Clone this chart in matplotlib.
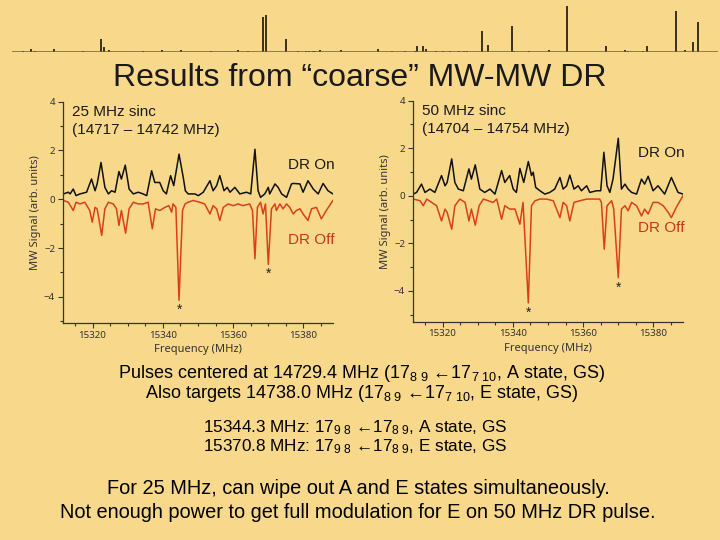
import numpy as np
import matplotlib
matplotlib.use("Agg")
from matplotlib import pyplot as plt
from matplotlib.ticker import MultipleLocator

plt.rcParams['font.family'] = ['Liberation Sans', 'DejaVu Sans']
plt.rcParams['mathtext.fontset'] = 'custom'
plt.rcParams['mathtext.rm'] = 'Liberation Sans'
plt.rcParams['mathtext.it'] = 'Liberation Sans:italic'
plt.rcParams['mathtext.bf'] = 'Liberation Sans:bold'

BG = '#f8d98b'
RED = '#d8401c'
ARROW = '\u2190'

# stick spectrum across the top (position, relative intensity)
stick_pos = [22.7, 31.3, 35.3, 54.0, 82.7, 100.7, 104.0, 109.3, 143.3, 162.0,
             181.0, 210.7, 237.7, 248.3, 262.7, 266.3, 286.3, 298.3, 306.0, 309.3,
             313.3, 315.3, 320.0, 341.0, 377.7, 391.7, 405.0, 415.0, 416.7, 423.3,
             426.0, 436.0, 443.3, 450.0, 459.3, 464.0, 467.3, 481.7, 487.7, 512.0,
             514.0, 529.0, 548.7, 566.7, 579.3, 605.7, 625.0, 628.3, 642.7, 647.3,
             656.7, 675.7, 685.0, 693.3, 698.3]
stick_int = [1.0, 3.0, 1.0, 3.0, 1.0, 13.0, 5.0, 2.3, 1.0, 2.0,
             2.0, 1.0, 2.0, 1.0, 35.3, 37.0, 13.0, 0.7, 1.0, 1.0,
             1.0, 1.3, 2.0, 2.0, 2.7, 0.7, 0.7, 1.0, 6.0, 6.0,
             3.0, 0.7, 0.7, 0.7, 0.7, 1.0, 1.0, 21.0, 7.0, 26.0,
             1.3, 1.0, 2.0, 46.0, 0.3, 6.0, 2.0, 1.0, 1.0, 6.0,
             0.3, 41.0, 1.7, 9.7, 30.0]

# 25 MHz sinc panel
f25_on = [15311.7, 15313.1, 15313.6, 15314.5, 15315.3, 15316.4, 15318.3, 15319.7, 15320.7, 15321.3,
          15322.4, 15323.5, 15324.5, 15325.4, 15326.4, 15327.5, 15328.2, 15329.3, 15330.4, 15331.6,
          15333.0, 15334.4, 15335.4, 15336.8, 15337.7, 15339.1, 15340.1, 15341.0, 15342.2, 15343.1,
          15344.6, 15345.8, 15346.4, 15347.2, 15348.2, 15349.1, 15350.1, 15351.5, 15353.4, 15354.3,
          15355.3, 15356.2, 15357.4, 15358.3, 15359.1, 15360.5, 15361.9, 15363.8, 15365.0, 15366.2,
          15367.1, 15367.8, 15369.0, 15370.0, 15370.4, 15371.9, 15372.8, 15373.8, 15375.2, 15376.6,
          15377.1, 15379.0, 15379.9, 15381.3, 15382.8, 15384.2, 15385.6, 15387.0, 15388.4]
s25_on = [0.22, 0.29, 0.22, 0.42, 0.15, 0.22, 0.29, 0.83, 0.35, 0.63,
          1.51, 0.49, 0.22, 0.35, 0.29, 1.14, 0.83, 1.40, 0.42, 0.22,
          0.29, 0.22, 0.15, 1.17, 0.69, 0.69, 0.35, 0.22, 0.97, 0.56,
          1.85, 0.90, 0.35, 0.22, 0.22, 0.22, 0.15, 0.29, 0.76, 0.35,
          0.56, 0.97, 0.35, 0.49, 0.29, 0.49, 0.22, 0.29, 0.22, 2.05,
          0.35, 0.08, 0.22, 0.49, 0.22, 0.63, 0.49, 0.22, 0.08, 0.63,
          0.65, 0.63, 0.29, 0.76, 0.42, 0.22, 0.65, 0.35, 0.22]
f25_off = [15311.7, 15313.1, 15314.5, 15315.3, 15316.4, 15317.8, 15319.2, 15319.9, 15320.7, 15321.3,
           15322.6, 15323.5, 15324.5, 15325.9, 15326.8, 15327.5, 15328.2, 15329.4, 15330.4, 15331.6,
           15333.0, 15334.4, 15335.8, 15337.0, 15337.9, 15339.1, 15340.6, 15341.7, 15342.5, 15342.9,
           15343.7, 15344.6, 15345.6, 15346.3, 15347.2, 15348.6, 15350.5, 15351.9, 15353.4, 15354.3,
           15355.3, 15356.2, 15357.2, 15358.6, 15360.0, 15361.4, 15362.8, 15364.7, 15365.5, 15366.2,
           15366.9, 15367.8, 15368.5, 15369.2, 15370.0, 15370.9, 15371.9, 15372.3, 15373.3, 15374.2,
           15375.2, 15376.1, 15377.1, 15378.0, 15379.0, 15379.9, 15381.3, 15382.3, 15383.7, 15385.1,
           15386.5, 15388.4]
s25_off = [-0.05, -0.12, -0.46, -0.12, -0.19, -0.12, -0.46, -0.94, -0.33, -0.39,
           -1.48, -0.39, -0.12, -0.19, -0.39, -1.07, -0.46, -1.39, -0.39, -0.12,
           -0.19, -0.19, -0.12, -1.21, -0.39, -0.46, -0.33, -0.26, -0.53, -0.19,
           -0.33, -4.14, -0.46, -0.19, -0.12, -0.05, -0.12, -0.19, -0.60, -0.26,
           -0.39, -0.87, -0.33, -0.19, -0.26, -0.19, -0.26, -0.19, -0.46, -2.44,
           -0.33, -0.12, -0.60, -0.19, -2.67, -0.39, -0.19, -0.46, -0.19, -0.39,
           -0.19, -0.33, -0.60, -0.46, -0.39, -0.60, -0.87, -0.39, -0.33, -0.80,
           -0.46, -0.05]

# 50 MHz sinc panel
f50_on = [15311.7, 15312.6, 15314.0, 15315.0, 15316.4, 15317.8, 15319.7, 15320.7, 15321.3, 15322.6,
          15323.5, 15324.5, 15325.9, 15327.5, 15328.2, 15329.3, 15330.6, 15332.0, 15333.5, 15334.9,
          15336.8, 15337.7, 15339.1, 15340.1, 15341.0, 15342.0, 15343.1, 15344.4, 15345.3, 15345.8,
          15346.5, 15347.7, 15349.1, 15350.5, 15351.9, 15353.4, 15354.3, 15355.3, 15356.2, 15357.4,
          15358.6, 15359.5, 15361.0, 15361.9, 15363.8, 15365.0, 15365.9, 15366.8, 15367.6, 15368.5,
          15370.0, 15370.9, 15371.9, 15372.8, 15373.8, 15375.2, 15376.6, 15377.5, 15378.5, 15379.9,
          15381.3, 15383.2, 15385.1, 15387.0, 15388.4]
s50_on = [0.07, 0.14, 0.49, 0.14, 0.28, 0.14, 0.85, 0.42, 0.56, 1.55,
          0.56, 0.28, 0.21, 1.13, 0.70, 1.30, 0.28, 0.14, 0.28, 0.07,
          1.06, 0.56, 0.85, 0.28, 0.14, 1.15, 0.56, 1.44, 0.85, 0.99,
          0.35, 0.21, 0.07, 0.14, 0.28, 0.77, 0.28, 0.42, 0.87, 0.28,
          0.42, 0.21, 0.42, 0.14, 0.21, 0.21, 1.83, 0.42, 0.14, 0.70,
          2.42, 0.28, 0.49, 0.28, 0.14, 0.07, 0.70, 0.49, 0.82, 0.21,
          0.42, 0.07, 0.77, 0.14, 0.07]
f50_off = [15311.7, 15313.6, 15314.5, 15315.5, 15316.9, 15318.3, 15319.7, 15320.7, 15321.3, 15322.6,
           15323.5, 15324.9, 15326.4, 15327.5, 15328.2, 15329.3, 15330.4, 15331.6, 15333.0, 15334.4,
           15335.4, 15336.8, 15337.7, 15339.1, 15340.6, 15342.0, 15342.9, 15344.4, 15345.3, 15346.3,
           15347.7, 15349.6, 15351.5, 15353.4, 15354.3, 15355.3, 15356.2, 15357.4, 15359.1, 15361.0,
           15362.8, 15364.7, 15365.2, 15366.0, 15366.8, 15368.1, 15368.7, 15370.0, 15370.9, 15371.9,
           15372.8, 15373.8, 15375.2, 15376.6, 15377.5, 15378.5, 15379.9, 15381.3, 15382.8, 15384.2,
           15385.1, 15386.5, 15388.4]
s50_off = [-0.14, -0.21, -0.42, -0.14, -0.28, -0.42, -1.06, -0.56, -0.70, -1.41,
           -0.42, -0.14, -0.28, -1.06, -0.56, -1.24, -0.42, -0.14, -0.21, -0.28,
           -0.14, -0.99, -0.42, -0.56, -0.56, -1.20, -0.28, -4.51, -0.42, -0.21,
           -0.14, -0.14, -0.21, -0.92, -0.28, -0.42, -1.06, -0.28, -0.21, -0.14,
           -0.14, -0.14, -0.28, -2.25, -0.42, -0.21, -0.56, -3.45, -0.56, -0.42,
           -0.63, -0.28, -0.42, -0.85, -0.56, -0.77, -0.28, -0.28, -0.42, -0.70,
           -0.92, -0.49, 0.00]

fig = plt.figure(figsize=(7.2, 5.4), dpi=100)
fig.patch.set_facecolor(BG)

def px(x, y):
    return x / 720, 1 - y / 540

# top stick spectrum
axs = fig.add_axes([12 / 720, 1 - 52 / 540, 706 / 720, 48 / 540])
axs.set_facecolor('none')
axs.vlines(stick_pos, 0, stick_int, color='#2b2314', lw=1.3)
axs.axhline(0, color='#76652f', lw=1.1)
axs.set_xlim(12, 718)
axs.set_ylim(0, 48)
axs.axis('off')

fig.text(*px(360, 78), "Results from \u201ccoarse\u201d MW-MW DR", ha='center', va='center',
         fontsize=23, color='#1a1a1a')


def panel(rect, ylo, f_on, s_on, f_off, s_off, lab1, lab2, on_xy, off_xy, star_pts):
    ax = fig.add_axes(rect)
    ax.set_facecolor('none')
    ax.plot(f_on, s_on, color='#111111', lw=1.1)
    ax.plot(f_off, s_off, color=RED, lw=1.1)
    ax.set_xlim(15311.5, 15388.5)
    ax.set_ylim(ylo, 4)
    for s in ['top', 'right']:
        ax.spines[s].set_visible(False)
    for s in ['left', 'bottom']:
        ax.spines[s].set_color('#333333')
        ax.spines[s].set_linewidth(0.9)
    ax.xaxis.set_major_locator(MultipleLocator(20))
    ax.xaxis.set_minor_locator(MultipleLocator(5))
    ax.yaxis.set_major_locator(MultipleLocator(2))
    ax.yaxis.set_minor_locator(MultipleLocator(1))
    ax.set_xticks([15320, 15340, 15360, 15380])
    ax.tick_params(which='both', direction='out', colors='#333333', labelsize=7, width=0.8)
    ax.tick_params(which='major', length=3.5, pad=2)
    ax.tick_params(which='minor', length=2)
    ax.set_xlabel("Frequency (MHz)", fontsize=8, color='#333333', labelpad=3,
                  family=['Noto Sans', 'DejaVu Sans'])
    ax.set_ylabel("MW Signal (arb. units)", fontsize=8, color='#333333', labelpad=2,
                  family=['Noto Sans', 'DejaVu Sans'])
    for lab in ax.get_xticklabels() + ax.get_yticklabels():
        lab.set_family(['Noto Sans', 'DejaVu Sans'])
    ax.text(0.035, 0.985, lab1, transform=ax.transAxes, fontsize=11, va='top', color='#1a1a1a')
    ax.text(0.035, 0.905, lab2, transform=ax.transAxes, fontsize=11, va='top', color='#1a1a1a')
    fig.text(*px(*on_xy), "DR On", fontsize=11, va='center', color='#1a1a1a')
    fig.text(*px(*off_xy), "DR Off", fontsize=11, va='center', color='#c8361a')
    for fx, fy in star_pts:
        ax.annotate('*', (fx, fy), xytext=(0, -2), textcoords='offset points',
                    ha='center', va='top', fontsize=10, color='#222222')
    return ax


panel([62.7 / 720, 1 - 323 / 540, 270.6 / 720, 221.3 / 540], -5.07,
      f25_on, s25_on, f25_off, s25_off,
      "25 MHz sinc", "(14717 \u2013 14742 MHz)", (288, 165), (288, 240),
      [(15344.6, -4.14), (15370.0, -2.67)])
panel([412.7 / 720, 1 - 321.7 / 540, 270.6 / 720, 221 / 540], -5.3,
      f50_on, s50_on, f50_off, s50_off,
      "50 MHz sinc", "(14704 \u2013 14754 MHz)", (638, 153), (638, 228),
      [(15344.4, -4.51), (15370.0, -3.45)])

fig.text(*px(362, 374), "Pulses centered at 14729.4 MHz (17$_{8\\ 9}$ " + ARROW + "17$_{7\\ 10}$, A state, GS)",
         ha='center', va='center', fontsize=13)
fig.text(*px(362, 394), "Also targets 14738.0 MHz (17$_{8\\ 9}$ " + ARROW + "17$_{7\\ 10}$, E state, GS)",
         ha='center', va='center', fontsize=13)
fig.text(*px(203, 428), "15344.3 MHz: 17$_{9\\ 8}$ " + ARROW + "17$_{8\\ 9}$, A state, GS",
         ha='left', va='center', fontsize=12.3)
fig.text(*px(203, 447), "15370.8 MHz: 17$_{9\\ 8}$ " + ARROW + "17$_{8\\ 9}$, E state, GS",
         ha='left', va='center', fontsize=12.3)
fig.text(*px(358, 488), "For 25 MHz, can wipe out A and E states simultaneously.",
         ha='center', va='center', fontsize=14.4)
fig.text(*px(358, 512), "Not enough power to get full modulation for E on 50 MHz DR pulse.",
         ha='center', va='center', fontsize=14.4)

fig.savefig("out.png", dpi=100, facecolor=BG)
